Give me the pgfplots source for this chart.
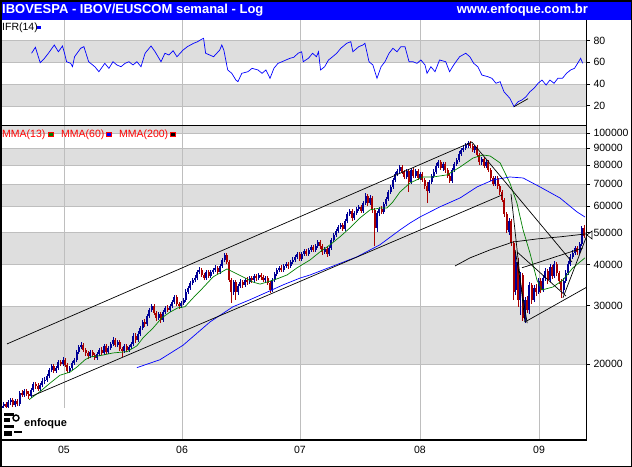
\documentclass[border=0pt]{standalone}
\usepackage{pgfplots}
\pgfplotsset{compat=1.18}
\usepackage{pgfplotstable}
\usepackage{fontspec}
\setmainfont{Liberation Sans}
\definecolor{titleblue}{RGB}{0,0,255}
\definecolor{band}{RGB}{222,222,222}
\definecolor{gridc}{RGB}{190,190,190}
\definecolor{upc}{RGB}{0,0,150}
\definecolor{dnc}{RGB}{170,0,0}
\definecolor{mmagreen}{RGB}{0,128,0}
\definecolor{mmablue}{RGB}{0,0,255}
\definecolor{labred}{RGB}{255,0,0}
\newcommand\lab{\fontsize{10.5bp}{12.6bp}\selectfont}
\pgfplotsset{candle/.style 2 args={draw=none, mark=none, forget plot,
  error bars/.cd, y dir=plus, y explicit, error mark=none,
  error bar style={draw=#1, solid, line width=#2}}}

\pgfplotstableread{
o h l c
14700 15300 14500 14900
14900 15400 14700 15100
15100 15400 14600 14800
14800 15600 14600 15300
15300 15800 15000 15600
15600 15800 14800 15000
15000 15700 14800 15500
15500 15700 14900 15100
15100 16600 14900 16400
16400 16700 15900 16100
16100 16800 15900 16600
16600 16800 16000 16200
16200 16600 15700 16000
16000 16900 15800 16700
16700 17700 16500 17400
17400 17700 16800 17200
17200 17500 16600 16800
16800 17500 16600 17300
17300 18100 17000 17800
17800 18300 17400 17900
17900 18700 17700 18400
18400 19500 18100 19200
19200 20000 18900 19700
19700 20000 18800 19100
19100 19700 18800 19500
19500 20600 19200 20300
20300 20600 19700 20000
20000 21000 19700 20600
20600 20900 19600 19900
19900 20200 18800 19100
19100 19700 18800 19500
19500 20400 19200 20200
20200 20900 19900 20600
20600 22100 20300 21800
21800 22800 21500 22500
22500 23300 22200 22800
22800 23200 21800 22100
22100 22400 21200 21600
21600 21900 20700 21200
21200 22100 20900 21800
21800 22100 21000 21300
21300 21600 20600 20900
20900 21800 20600 21500
21500 22400 21200 22100
22100 22500 21300 21600
21600 23000 21300 22700
22700 23000 21500 21800
21800 22700 21500 22400
22400 23300 22100 23000
23000 24200 22700 23700
23700 24000 22500 22800
22800 23700 22500 23300
23300 23700 21900 22200
22200 22500 21000 21900
21900 23000 21600 22700
22700 23000 21800 22100
22100 22800 21800 22500
22500 23300 22200 23000
23000 24800 22700 24300
24300 24800 23200 23700
23700 25200 23300 24700
24700 26000 24300 25700
25700 27200 25400 26800
26800 27400 25900 26400
26400 28300 26000 27900
27900 29600 27600 29100
29100 30400 28700 30000
30000 30400 28100 28500
28500 28900 27000 27600
27600 28700 27200 28300
28300 28700 26600 27200
27200 29100 26800 28700
28700 30000 28300 29600
29600 30200 28700 29100
29100 30400 28700 30000
30000 31300 29600 30800
30800 32400 30400 31900
31900 32400 30000 30400
30400 30800 29400 30000
30000 31000 29600 30600
30600 31700 30200 31300
31300 33700 30800 33000
33000 34400 32600 34000
34000 35700 33500 35200
35200 36400 34700 35900
35900 37200 35400 36400
36400 38500 35900 38000
38000 39300 37500 38500
38500 39100 36700 37200
37200 37700 35900 36400
36400 38500 35900 38000
38000 38500 36400 36900
36900 38500 36400 38000
38000 39100 37500 38500
38500 39900 38000 39100
39100 39600 37500 38000
38000 40200 37500 39600
39600 41900 39100 41300
41300 43400 40700 42800
42800 43400 40200 40700
40700 41300 35400 35900
35900 36400 30600 33000
33000 35900 32400 35400
35400 35900 31300 33000
33000 34900 32400 34400
34400 36200 34000 35400
35400 35900 34000 34700
34700 36400 34200 35900
35900 36700 34700 35400
35400 36900 34900 36400
36400 36900 35200 35900
35900 37500 35400 36900
36900 37500 35700 36400
36400 37700 35900 37200
37200 37700 35900 36700
36700 37200 35400 35900
35900 36900 35200 36400
36400 36900 34700 35200
35200 35700 32800 33500
33500 36400 33000 35900
35900 38000 35400 37500
37500 39100 36900 38500
38500 39600 38000 39100
39100 39900 38000 38500
38500 40200 38000 39600
39600 40700 39100 40200
40200 40700 38800 39600
39600 41300 39100 40700
40700 42200 40200 41300
41300 42800 40700 42200
42200 43700 41600 43100
43100 43700 41000 41600
41600 43700 41000 43100
43100 44600 42500 44000
44000 44600 42500 43100
43100 44900 42500 44300
44300 45900 43700 45200
45200 45900 43700 44300
44300 46200 43700 45500
45500 47500 44900 46800
46800 47500 44600 45500
45500 46200 42800 43700
43700 45200 43100 44600
44600 45200 42200 43100
43100 45500 42500 44900
44900 48200 44300 47500
47500 49900 46800 49200
49200 51300 48500 50600
50600 52700 49900 52000
52000 53400 51300 52700
52700 53400 50600 51300
51300 54900 50600 54200
54200 57700 53400 56900
56900 58900 56100 58100
58100 58900 54200 55300
55300 58100 54600 57300
57300 59800 56500 58900
58900 60600 58100 59800
59800 60600 57300 58100
58100 62300 57300 61400
61400 65900 60600 64500
64500 65400 60200 61400
61400 64900 60600 63600
63600 64500 57300 58500
58500 59300 45500 51600
51600 58100 50200 57300
57300 59800 56100 58900
58900 60200 56900 57700
57700 61900 56900 61000
61000 64100 60200 63200
63200 67300 62300 66300
66300 69600 65400 68700
68700 73100 67700 72100
72100 76200 71100 75200
75200 77800 74100 76800
76800 80000 75700 78900
78900 80000 75200 76200
76200 77300 72600 73600
73600 77800 72600 76800
76800 77800 66300 71100
71100 78400 70100 77300
77300 78400 73100 74100
74100 77800 73100 76800
76800 77800 72100 73100
73100 76200 72100 75200
75200 76200 71100 72100
72100 73100 67700 69200
69200 71100 61400 66800
66800 72100 65900 71100
71100 75200 70100 74100
74100 77800 73100 76200
76200 81200 75200 79500
79500 82900 78400 81700
81700 82900 77300 78400
78400 81700 76800 80600
80600 81700 75700 77300
77300 78400 73100 74100
74100 75200 70600 71600
71600 78400 70600 77300
77300 81700 76200 80600
80600 84000 79500 82900
82900 88200 81700 86400
86400 90000 85200 88800
88800 92000 87600 90000
90000 93200 88800 92000
92000 94600 90000 93200
93200 94600 90000 91300
91300 92600 87600 88800
88800 92000 87000 90700
90700 92000 84600 85800
85800 87000 80000 81700
81700 84600 80000 83400
83400 84600 78400 79500
79500 82900 78400 81700
81700 82900 76200 77300
77300 78400 71600 73100
73100 74100 69200 70100
70100 74100 69200 73100
73100 74100 67700 69200
69200 70100 64900 66300
66300 67300 61900 62700
62700 63600 55700 56900
56900 57700 49900 50900
50200 55300 49200 54200
54200 54900 45500 46500
46500 47200 31300 33000
33500 43700 32400 40700
40700 41900 29800 31300
31300 38000 28100 37200
37200 37700 27000 27600
27600 31900 26600 31300
31300 32100 28500 29100
29100 35400 28300 34700
34700 35200 30400 31300
31300 34700 30800 34000
34000 34900 32100 33000
33000 36400 32600 35700
35700 36400 32800 33500
33500 37200 33000 36400
36400 39100 35700 38300
38300 38800 34900 35900
35900 40200 35400 39300
39300 39900 36200 36900
36900 41000 36400 40200
40200 40700 36900 37700
37700 38300 34900 35700
35700 36200 31700 33500
33500 36400 32800 35700
35700 38500 35200 37700
37700 41000 37200 40200
40200 43100 39600 42200
42200 44300 41600 43400
43400 45500 42800 44900
44900 45500 42800 43700
43700 46800 43100 46200
46200 52300 45500 51600
51600 52700 48200 48800
}\candles

\pgfplotstableread{
w v
13.2 68.4
14.9 73.9
17.0 59.7
18.9 63.8
20.6 68.4
23.2 76.0
25.0 69.8
26.8 75.1
27.7 68.4
28.6 60.6
30.4 59.1
31.2 56.0
32.1 65.2
34.8 73.0
36.2 74.5
38.3 60.6
41.0 56.0
42.8 51.4
45.4 59.1
47.2 54.5
49.0 60.6
50.7 57.6
52.5 56.0
54.3 59.1
56.0 60.6
57.8 57.6
59.5 60.6
61.3 56.0
63.1 68.4
65.7 75.1
67.5 69.8
70.1 60.6
71.8 68.4
73.6 66.8
75.4 70.8
77.1 65.2
79.8 71.4
81.7 74.5
84.4 77.6
86.2 79.1
87.9 81.3
88.8 82.2
89.7 68.4
91.5 66.8
93.2 65.2
95.9 71.4
96.8 76.0
97.7 71.4
99.4 53.0
101.2 49.9
103.0 43.7
103.9 42.2
105.6 49.9
108.3 51.4
110.1 54.5
112.7 53.0
114.5 49.9
116.2 53.0
118.0 45.3
119.7 54.5
121.5 59.1
123.3 60.6
125.0 62.2
126.8 63.8
128.5 64.7
130.3 68.4
131.9 69.8
132.6 60.6
134.9 63.8
136.7 68.4
138.4 65.2
139.3 69.8
140.2 53.0
142.0 56.0
143.7 62.2
145.5 65.2
147.3 68.4
149.1 73.0
151.7 77.6
153.5 79.1
154.4 69.8
157.0 74.5
158.8 76.0
159.7 77.6
161.5 60.6
163.2 57.6
165.0 45.3
166.8 56.0
168.5 60.6
170.3 68.4
172.0 73.0
173.8 69.8
175.5 74.5
177.3 74.5
179.1 60.6
180.8 60.6
182.6 59.1
184.3 62.2
186.1 57.6
187.0 49.9
188.7 56.0
190.5 51.4
192.5 62.2
195.2 60.6
196.9 51.4
198.7 57.6
201.3 65.2
204.0 68.4
205.8 65.2
207.5 59.1
209.3 56.0
211.1 48.3
213.7 46.8
215.5 45.3
217.3 40.7
219.1 42.2
220.8 32.9
223.4 26.8
225.2 19.1
227.0 23.7
228.7 25.3
230.5 28.3
232.2 32.9
234.0 36.1
235.8 40.7
237.5 43.7
239.3 39.1
241.0 43.7
242.8 40.7
244.5 45.3
246.5 45.3
248.3 49.9
250.1 53.0
251.8 54.5
253.6 60.6
254.5 63.8
255.4 59.1
}\ifr

\pgfplotstableread{
w p
12.1 15600
16.9 16500
21.3 17500
25.7 18500
30.1 18900
33.2 19600
36.7 20600
38.9 21000
43.3 21200
49.0 21600
55.2 21800
59.5 22700
62.2 24000
66.6 25700
70.5 27600
74.0 28700
77.6 29600
80.6 29800
84.2 31700
88.5 34000
93.0 36700
99.1 38800
101.7 38000
106.1 36700
110.5 35400
113.6 34900
116.7 35400
121.1 36200
125.5 37200
129.9 39100
135.6 41300
140.0 43700
144.4 45900
148.7 48500
153.1 51600
157.5 55300
161.9 58500
166.3 59300
169.4 59300
172.0 61900
175.1 66300
179.5 70600
185.2 73600
189.6 73600
195.8 74700
201.5 78900
207.2 84000
211.6 85800
214.7 85200
219.1 81200
223.4 70600
226.5 61400
229.2 50900
232.2 43400
235.3 35900
237.5 33500
242.3 34200
246.7 35900
251.1 39100
256.4 41900
}\mmaA

\pgfplotstableread{
w p
59.5 19500
69.6 20600
79.8 22800
91.6 26800
101.7 29800
109.2 31300
116.7 33000
123.7 34700
131.2 36400
135.6 37200
156.2 42200
166.3 45900
175.1 50900
179.5 53400
183.9 55700
192.7 59800
201.5 63600
209.0 68700
216.0 72100
223.4 73600
229.2 73100
236.6 68700
245.4 63600
252.9 57700
256.4 55700
}\mmaB

\pgfplotstableread{
w p
199.3 39600
205.9 41900
214.7 44300
224.8 46800
235.3 47800
245.4 48500
256.8 49500
}\mmaC

\begin{document}
\begin{tikzpicture}
\useasboundingbox (0,0) rectangle (632bp,-467bp);
\fill[white] (0,0) rectangle (632bp,-467bp);

% ---------------- IFR panel ----------------
\begin{axis}[
  at={(0bp,-125bp)}, anchor=south west,
  width=586bp, height=105bp, scale only axis,
  xmin=-0.66, xmax=256.85, ymin=2.2, ymax=99.1,
  axis line style={draw=none},
  xtick=\empty,
  ytick={20,40,60,80},
  ytick pos=right, yticklabel pos=right,
  ytick style={black, line width=0.8bp},
  tick align=outside, major tick length=4bp,
  ticklabel style={font=\lab},
  yticklabel style={anchor=west},
  /pgf/number format/assume math mode=true,
]
\fill[band] (axis cs:-2,60) rectangle (axis cs:260,80);
\fill[band] (axis cs:-2,20) rectangle (axis cs:260,40);
\draw[gridc] (axis cs:-2,20) -- (axis cs:260,20);
\draw[gridc] (axis cs:-2,40) -- (axis cs:260,40);
\draw[gridc] (axis cs:-2,60) -- (axis cs:260,60);
\draw[gridc] (axis cs:-2,80) -- (axis cs:260,80);
\draw[gridc] (axis cs:27.46,0) -- (axis cs:27.46,100);
\draw[gridc] (axis cs:79.32,0) -- (axis cs:79.32,100);
\draw[gridc] (axis cs:131.16,0) -- (axis cs:131.16,100);
\draw[gridc] (axis cs:183.9,0) -- (axis cs:183.9,100);
\draw[gridc] (axis cs:236.2,0) -- (axis cs:236.2,100);
\addplot[mmablue, line width=0.7bp, mark=none] table[x=w, y=v] {\ifr};
\addplot[black, line width=0.7bp, mark=none] coordinates {(225.2,19.1) (231.4,26.5)};
\end{axis}

% ---------------- Price panel ----------------
\begin{axis}[
  at={(0bp,-439bp)}, anchor=south west,
  width=586bp, height=313bp, scale only axis,
  xmin=-0.66, xmax=256.85,
  ymode=log, ymin=11862, ymax=105000,
  axis line style={draw=none},
  xtick={27.46,79.32,131.16,183.9,236.2},
  xticklabels={05,06,07,08,09},
  xtick style={draw=none},
  ytick={20000,30000,40000,50000,60000,70000,80000,90000,100000},
  yticklabels={20000,30000,40000,50000,60000,70000,80000,90000,100000},
  minor y tick style={draw=none}, minor tick length=0pt,
  ytick pos=right, yticklabel pos=right,
  ytick style={black, line width=0.8bp},
  tick align=outside, major tick length=4bp,
  ticklabel style={font=\lab},
  yticklabel style={anchor=west},
  /pgf/number format/assume math mode=true,
]
\fill[band] (axis cs:-2,100000) rectangle (axis cs:260,120000);
\fill[band] (axis cs:-2,80000) rectangle (axis cs:260,90000);
\fill[band] (axis cs:-2,60000) rectangle (axis cs:260,70000);
\fill[band] (axis cs:-2,40000) rectangle (axis cs:260,50000);
\fill[band] (axis cs:-2,20000) rectangle (axis cs:260,30000);
\draw[gridc] (axis cs:-2,20000) -- (axis cs:260,20000);
\draw[gridc] (axis cs:-2,30000) -- (axis cs:260,30000);
\draw[gridc] (axis cs:-2,40000) -- (axis cs:260,40000);
\draw[gridc] (axis cs:-2,50000) -- (axis cs:260,50000);
\draw[gridc] (axis cs:-2,60000) -- (axis cs:260,60000);
\draw[gridc] (axis cs:-2,70000) -- (axis cs:260,70000);
\draw[gridc] (axis cs:-2,80000) -- (axis cs:260,80000);
\draw[gridc] (axis cs:-2,90000) -- (axis cs:260,90000);
\draw[gridc] (axis cs:-2,100000) -- (axis cs:260,100000);
\draw[gridc] (axis cs:27.46,11000) -- (axis cs:27.46,120000);
\draw[gridc] (axis cs:79.32,11000) -- (axis cs:79.32,120000);
\draw[gridc] (axis cs:131.16,11000) -- (axis cs:131.16,120000);
\draw[gridc] (axis cs:183.9,11000) -- (axis cs:183.9,120000);
\draw[gridc] (axis cs:236.2,11000) -- (axis cs:236.2,120000);

% wicks
\addplot[candle={upc}{0.8bp}]
  table[x expr=\coordindex, y expr={\thisrow{c}>=\thisrow{o} ? \thisrow{l} : nan},
        y error plus expr={\thisrow{h}-\thisrow{l}}] {\candles};
\addplot[candle={dnc}{0.8bp}]
  table[x expr=\coordindex, y expr={\thisrow{c}<\thisrow{o} ? \thisrow{l} : nan},
        y error plus expr={\thisrow{h}-\thisrow{l}}] {\candles};
% bodies
\addplot[candle={upc}{2bp}]
  table[x expr=\coordindex, y expr={\thisrow{c}>=\thisrow{o} ? \thisrow{o} : nan},
        y error plus expr={\thisrow{c}-\thisrow{o}}] {\candles};
\addplot[candle={dnc}{2bp}]
  table[x expr=\coordindex, y expr={\thisrow{c}<\thisrow{o} ? \thisrow{c} : nan},
        y error plus expr={\thisrow{o}-\thisrow{c}}] {\candles};

% moving averages
\addplot[mmagreen, line width=0.7bp, mark=none] table[x=w, y=p] {\mmaA};
\addplot[mmablue, line width=0.7bp, mark=none] table[x=w, y=p] {\mmaB};
\addplot[black, line width=0.7bp, mark=none] table[x=w, y=p] {\mmaC};

% trend lines
\addplot[black, line width=0.7bp, mark=none] coordinates {(2.42,23000) (206.7,93900)};
\addplot[black, line width=0.7bp, mark=none] coordinates {(13.4,16000) (219.9,64900)};
\addplot[black, line width=0.7bp, mark=none] coordinates {(206.7,93900) (250.7,40700)};
\addplot[black, line width=0.7bp, mark=none] coordinates {(223.9,65400) (230.0,26800)};
\addplot[black, line width=0.7bp, mark=none] coordinates {(225.7,44300) (231.0,26600)};
\addplot[black, line width=0.7bp, mark=none] coordinates {(230.0,26800) (257.3,34200)};
\addplot[black, line width=0.7bp, mark=none] coordinates {(228.7,39100) (255.5,44900)};
\addplot[black, line width=0.7bp, mark=none] coordinates {(226.5,43700) (248.1,32100)};
\addplot[black, line width=0.7bp, mark=none] coordinates {(246.7,31700) (257.7,49900)};
\end{axis}

% ---------------- frame and decorations ----------------
\fill[titleblue] (0,0) rectangle (632bp,-19.5bp);
\node[anchor=west, inner sep=0pt, text=white, font=\bfseries\fontsize{13bp}{15bp}\selectfont] at (2bp,-10bp) {IBOVESPA - IBOV/EUSCOM semanal - Log};
\node[anchor=east, inner sep=0pt, text=white, font=\bfseries\fontsize{13bp}{15bp}\selectfont] at (588bp,-10bp) {www.enfoque.com.br};
\draw[black, line width=1bp] (0,-125.5bp) -- (586.5bp,-125.5bp);
\draw[black, line width=1bp] (586.5bp,-19.5bp) -- (586.5bp,-441bp);
\draw[black, line width=2bp] (0,-440bp) -- (587bp,-440bp);
\draw[black, line width=1.5bp] (0.75bp,-0.75bp) rectangle (631.5bp,-466.5bp);
% legends
\node[anchor=west, inner sep=0pt, font=\lab] at (2bp,-27.5bp) {IFR(14)};
\fill[mmablue] (37bp,-25.5bp) rectangle (41bp,-29bp);
\node[anchor=west, inner sep=0pt, font=\lab, text=labred] at (2bp,-134.5bp) {MMA(13)};
\filldraw[fill=mmagreen, draw=labred, line width=0.6bp] (48bp,-132.5bp) rectangle (53bp,-136.5bp);
\node[anchor=west, inner sep=0pt, font=\lab, text=labred] at (61bp,-134.5bp) {MMA(60)};
\filldraw[fill=mmablue, draw=labred, line width=0.6bp] (106bp,-132.5bp) rectangle (111bp,-136.5bp);
\node[anchor=west, inner sep=0pt, font=\lab, text=labred] at (119bp,-134.5bp) {MMA(200)};
\filldraw[fill=black, draw=labred, line width=0.6bp] (170bp,-132.5bp) rectangle (175bp,-136.5bp);
% last price marker
\draw[black, line width=0.6bp] (587bp,-235bp) -- (592bp,-231bp) -- (592bp,-239bp) -- cycle;
% logo
\fill[white] (1.5bp,-408bp) rectangle (69bp,-438.5bp);
\fill[black] (4bp,-413bp) rectangle (14bp,-416bp);
\fill[black] (4bp,-418bp) rectangle (10bp,-422bp);
\draw[black, line width=1.4bp] (16bp,-418bp) circle (3bp);
\fill[black] (4bp,-425bp) rectangle (14bp,-428bp);
\fill[black] (4bp,-431bp) rectangle (12bp,-436bp);
\fill[black] (14bp,-431bp) rectangle (22bp,-433bp);
\node[anchor=west, inner sep=0pt, font=\bfseries\fontsize{11bp}{13bp}\selectfont] at (24bp,-424bp) {enfoque};
\end{tikzpicture}
\end{document}
